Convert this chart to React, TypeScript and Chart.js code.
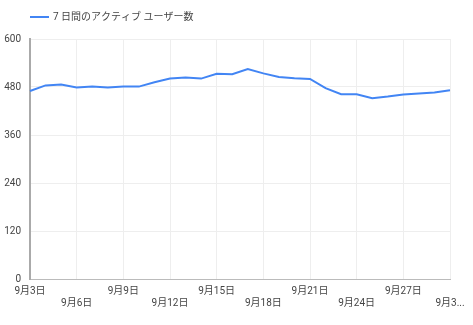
import React, { useEffect, useRef } from "react";
import { Chart, registerables } from "chart.js";

Chart.register(...registerables);

const days = [
  3, 4, 5, 6, 7, 8, 9, 10, 11, 12, 13, 14, 15, 16, 17, 18, 19, 20, 21, 22, 23, 24, 25, 26, 27, 28, 29, 30,
];
const categories = days.map((d) => `9月${d}日`);
const activeUsers = [
  470, 484, 486, 479, 481, 479, 481, 481, 492, 501, 504, 501, 513, 512, 525, 514, 505, 502, 500, 477, 462,
  462, 452, 456, 461, 464, 466, 472,
];
const seriesLabel = "7 日間のアクティブ ユーザー数";
const yTicks = [0, 120, 240, 360, 480, 600];

const FAMILY = "Roboto, 'Noto Sans CJK JP', sans-serif";

const legendPlugin = {
  id: "customLegend",
  afterDraw(chart: any) {
    const ctx = chart.ctx;
    const ds = chart.data.datasets[0];
    const x = chart.chartArea.left;
    const y = 17;
    ctx.save();
    ctx.strokeStyle = ds.borderColor;
    ctx.lineWidth = 2;
    ctx.beginPath();
    ctx.moveTo(x, y);
    ctx.lineTo(x + 19, y);
    ctx.stroke();
    ctx.fillStyle = "#444";
    ctx.font = `10px ${FAMILY}`;
    ctx.textBaseline = "middle";
    ctx.textAlign = "left";
    ctx.fillText(ds.label, x + 23, y);
    ctx.restore();
  },
};

export default function App() {
  const ref = useRef<HTMLCanvasElement | null>(null);

  useEffect(() => {
    document.body.style.margin = "0";
    const canvas = ref.current;
    if (!canvas) return;
    const font = { family: FAMILY, size: 10, lineHeight: 1.25 };
    const chart = new Chart(canvas, {
      type: "line",
      data: {
        labels: categories,
        datasets: [
          {
            label: seriesLabel,
            data: activeUsers,
            borderColor: "#4285f4",
            backgroundColor: "#4285f4",
            borderWidth: 2,
            pointRadius: 0,
            tension: 0,
          },
        ],
      },
      plugins: [legendPlugin],
      options: {
        animation: false,
        responsive: false,
        layout: { padding: { left: 0, right: 23, top: 39, bottom: 0 } },
        plugins: {
          legend: { display: false },
          tooltip: { enabled: false },
        },
        scales: {
          x: {
            grid: { color: "#eeeeee", drawTicks: false },
            border: { color: "#bbbbbb", width: 1 },
            afterFit: (s: any) => {
              s.height = 46;
            },
            ticks: {
              autoSkip: false,
              maxRotation: 0,
              minRotation: 0,
              padding: 6,
              color: "#444",
              font,
              callback: (_v: any, i: number) => {
                if (i % 3 !== 0) return null;
                const lbl = i === categories.length - 1 ? "9月3..." : categories[i];
                return (i / 3) % 2 === 0 ? [lbl] : ["", lbl];
              },
            },
          },
          y: {
            min: 0,
            max: 600,
            afterBuildTicks: (s: any) => {
              s.ticks = yTicks.map((v) => ({ value: v }));
            },
            grid: { color: "#eeeeee", drawTicks: false },
            border: { color: "#aaaaaa", width: 2 },
            afterFit: (s: any) => {
              s.width = 30;
            },
            ticks: {
              padding: 9,
              color: "#444",
              font,
            },
          },
        },
      },
    });
    return () => chart.destroy();
  }, []);

  return (
    <div style={{ width: 473, height: 325 }}>
      <canvas ref={ref} width={473} height={325} style={{ width: 473, height: 325, display: "block" }} />
    </div>
  );
}
